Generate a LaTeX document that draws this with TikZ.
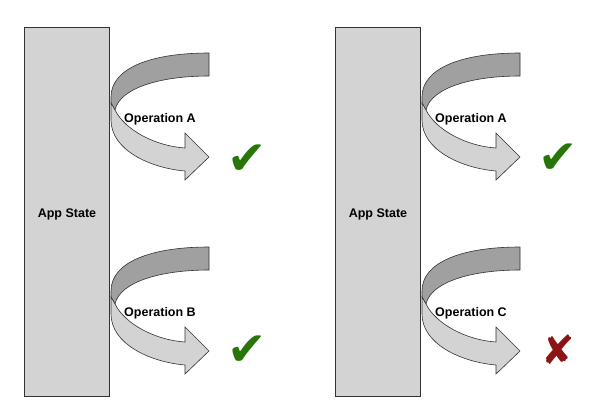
\documentclass[tikz,border=0pt]{standalone}
\usepackage{fontspec}
\setmainfont{Liberation Sans}
\newfontfamily\symfont{DejaVu Sans}
\definecolor{boxfill}{HTML}{D3D3D3}
\definecolor{bandfront}{HTML}{D3D3D3}
\definecolor{bandback}{HTML}{A0A0A0}
\definecolor{edgecol}{HTML}{333333}
\definecolor{okgreen}{RGB}{40,118,8}
\definecolor{failred}{RGB}{140,20,20}
\tikzset{
  statebox/.style={draw=edgecol, line width=1pt, fill=boxfill, minimum width=85.5pt,
    minimum height=369pt, inner sep=0pt},
  boxlabel/.style={font=\bfseries\fontsize{12.5}{14}\selectfont, inner sep=0pt},
  oplabel/.style={font=\bfseries\fontsize{12.5}{14}\selectfont, inner sep=0pt},
  okmark/.style={text=okgreen, font=\symfont\fontsize{47}{47}\selectfont, inner sep=0pt},
  failmark/.style={text=failred, font=\symfont\fontsize{40}{40}\selectfont, inner sep=0pt},
  bandline/.style={draw=edgecol, line width=0.6pt},
  uturn/.pic={
    \path[bandline, fill=bandback] (98,0) .. controls (40,0) and (0,15) .. (0,44)
      -- (0,50) -- (4,57) .. controls (9,35) and (49,23) .. (98,23) -- cycle;
    \path[bandline, fill=bandfront] (0,50) -- (0,67) .. controls (0,97) and (39,115) .. (74,118)
      -- (74,127) -- (98,104) -- (74,80) -- (74,95) .. controls (44,93) and (14,77) .. (4,57) -- cycle;
  }
}
\begin{document}
\begin{tikzpicture}[x=1pt, y=-1pt]
\useasboundingbox (0,0) rectangle (602,408);
% state boxes
\node[statebox] (stateL) at (66.75,211.5) {};
\node[statebox] (stateR) at (377.75,211.5) {};
\node[boxlabel] (stateLtext) at (67,214) {App State};
\node[boxlabel] (stateRtext) at (378,214) {App State};
% arrows
\pic (arrLA) at (111,53) {uturn};
\pic (arrLB) at (111,247) {uturn};
\pic (arrRA) at (422,53) {uturn};
\pic (arrRC) at (422,247) {uturn};
% labels
\node[oplabel] (opLA) at (160,119) {Operation A};
\node[oplabel] (opLB) at (160,313) {Operation B};
\node[oplabel] (opRA) at (471,119) {Operation A};
\node[oplabel] (opRC) at (471,313) {Operation C};
% results
\node[okmark] (okLA) at (247,159.5) {✔};
\node[okmark] (okLB) at (247,351) {✔};
\node[okmark] (okRA) at (558.5,158.5) {✔};
\node[failmark] (failRC) at (558.5,350) {✘};
\end{tikzpicture}
\end{document}
